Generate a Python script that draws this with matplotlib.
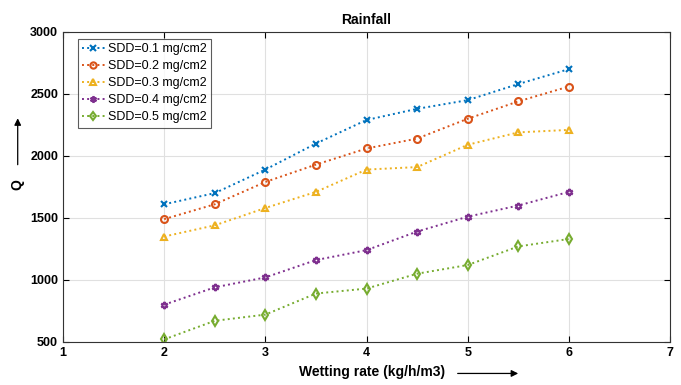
import numpy as np
import matplotlib.pyplot as plt

plt.rcParams['font.family'] = ['Liberation Sans', 'DejaVu Sans']

# wetting rate (kg/h/m3)
rate = [2, 2.5, 3, 3.5, 4, 4.5, 5, 5.5, 6]

q_01 = [1610, 1700, 1890, 2100, 2290, 2380, 2450, 2580, 2700]
q_02 = [1490, 1610, 1790, 1930, 2060, 2140, 2300, 2440, 2560]
q_03 = [1350, 1440, 1580, 1710, 1890, 1910, 2090, 2190, 2210]
q_04 = [800, 940, 1020, 1160, 1240, 1390, 1510, 1600, 1710]
q_05 = [520, 670, 720, 890, 930, 1050, 1120, 1270, 1330]

labels = ['SDD=0.1 mg/cm2', 'SDD=0.2 mg/cm2', 'SDD=0.3 mg/cm2',
          'SDD=0.4 mg/cm2', 'SDD=0.5 mg/cm2']
colors = ['#0072BD', '#D95319', '#EDB120', '#7E2F8E', '#77AC30']
markers = ['x', 'o', '^', (6, 1, 0), 'd']

fig = plt.figure(figsize=(6.81, 3.85), dpi=100)
ax = fig.add_axes([0.0925, 0.112, 0.8915, 0.805])

for q, lab, c, m in zip([q_01, q_02, q_03, q_04, q_05], labels, colors, markers):
    ax.plot(rate, q, linestyle=':', linewidth=1.4, color=c, marker=m,
            markersize=5, markerfacecolor='none', markeredgewidth=1.5, label=lab)

ax.set_xlim(1, 7)
ax.set_ylim(500, 3000)
ax.set_xticks(range(1, 8))
ax.set_yticks(range(500, 3001, 500))
ax.grid(True, color='#e0e0e0', linewidth=0.8)
ax.tick_params(direction='in', top=True, right=True, labelsize=9, length=4)
for t in ax.get_xticklabels() + ax.get_yticklabels():
    t.set_fontweight('bold')
for s in ax.spines.values():
    s.set_color('#333333')

ax.set_title('Rainfall', fontsize=10, fontweight='bold', pad=6)

# x label with arrow pointing right
fig.text(0.653, 0.015, 'Wetting rate (kg/h/m3)', ha='right', va='bottom',
         fontsize=10, fontweight='bold')
ax.annotate('', xy=(0.765, 0.03), xytext=(0.668, 0.03), xycoords='figure fraction',
            arrowprops=dict(arrowstyle='-|>', color='black', lw=0.9,
                            mutation_scale=10))

# y label with arrow pointing up
fig.text(0.026, 0.52, 'Q', ha='center', va='center', fontsize=10,
         fontweight='bold', rotation=90)
ax.annotate('', xy=(0.026, 0.70), xytext=(0.026, 0.565), xycoords='figure fraction',
            arrowprops=dict(arrowstyle='-|>', color='black', lw=0.9,
                            mutation_scale=10))

leg = ax.legend(loc='upper left', bbox_to_anchor=(0.02, 0.985), fontsize=9,
                frameon=True, fancybox=False, edgecolor='#333333',
                borderpad=0.35, labelspacing=0.4, handlelength=1.8,
                handletextpad=0.3, borderaxespad=0.2, markerscale=0.9)
leg.get_frame().set_linewidth(0.8)

fig.savefig('out.png', dpi=100)
